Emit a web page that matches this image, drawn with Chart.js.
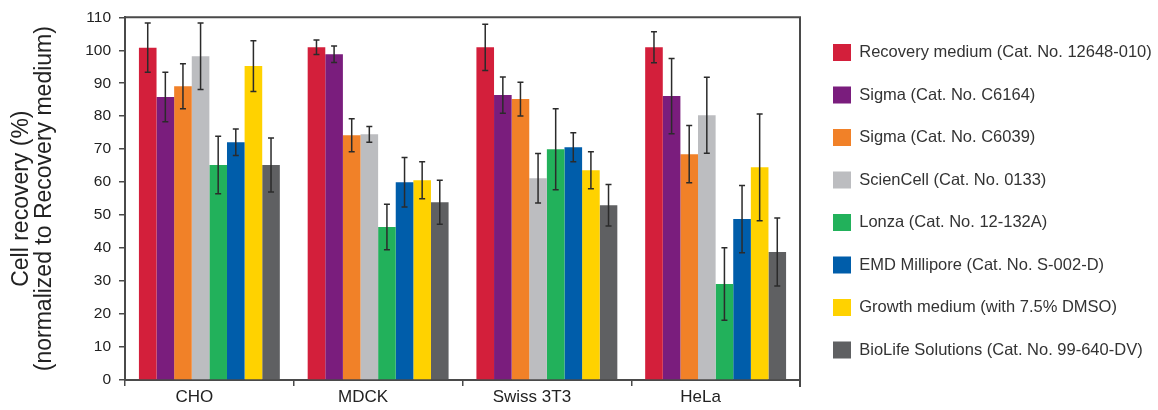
<!DOCTYPE html>
<html>
<head>
<meta charset="utf-8">
<script src="https://cdn.jsdelivr.net/npm/chart.js@4"></script>
<style>
  html, body { margin: 0; padding: 0; background: #fff; }
  #wrap { width: 1158px; height: 410px; position: relative; }
</style>
</head>
<body>
<div id="wrap"><canvas id="recovery-chart"></canvas></div>
<script>
// categories and series
const cellLines = ['CHO', 'MDCK', 'Swiss 3T3', 'HeLa'];

const recoveryMedium = [100.8, 100.9, 100.9, 100.9];
const recoveryMediumErr = [7.5, 2.2, 7.0, 4.7];
const sigmaC6164 = [85.8, 98.8, 86.4, 86.1];
const sigmaC6164Err = [7.5, 2.5, 5.5, 11.4];
const sigmaC6039 = [89.1, 74.2, 85.2, 68.5];
const sigmaC6039Err = [6.8, 5.0, 5.1, 8.7];
const scienCell = [98.2, 74.5, 61.2, 80.3];
const scienCellErr = [10.1, 2.4, 7.5, 11.5];
const lonza = [65.2, 46.4, 70.0, 29.1];
const lonzaErr = [8.7, 6.9, 12.3, 11.0];
const emdMillipore = [72.1, 60.0, 70.6, 48.8];
const emdMilliporeErr = [4.0, 7.5, 4.4, 10.2];
const growthMedium = [95.2, 60.6, 63.6, 64.5];
const growthMediumErr = [7.7, 5.6, 5.6, 16.2];
const bioLife = [65.2, 53.9, 53.0, 38.8];
const bioLifeErr = [8.2, 6.7, 6.3, 10.3];

const yTicks = { min: 0, max: 110, step: 10 };

const seriesList = [
  { label: 'Recovery medium (Cat. No. 12648-010)', data: recoveryMedium, err: recoveryMediumErr, color: '#D31F3B' },
  { label: 'Sigma (Cat. No. C6164)', data: sigmaC6164, err: sigmaC6164Err, color: '#7A1D7D' },
  { label: 'Sigma (Cat. No. C6039)', data: sigmaC6039, err: sigmaC6039Err, color: '#F18128' },
  { label: 'ScienCell (Cat. No. 0133)', data: scienCell, err: scienCellErr, color: '#BCBDC0' },
  { label: 'Lonza (Cat. No. 12-132A)', data: lonza, err: lonzaErr, color: '#22B15B' },
  { label: 'EMD Millipore (Cat. No. S-002-D)', data: emdMillipore, err: emdMilliporeErr, color: '#005DAA' },
  { label: 'Growth medium (with 7.5% DMSO)', data: growthMedium, err: growthMediumErr, color: '#FFD200' },
  { label: 'BioLife Solutions (Cat. No. 99-640-DV)', data: bioLife, err: bioLifeErr, color: '#5F6062' }
];

const FONT = '"Liberation Sans", Arial, Helvetica, sans-serif';
const AXIS_COLOR = '#4a4a4a';

// error bars drawn from the y scale
const errorBars = {
  id: 'errorBars',
  afterDatasetsDraw(chart) {
    const ctx = chart.ctx;
    const y = chart.scales.y;
    ctx.save();
    ctx.strokeStyle = '#2b2b2b';
    ctx.lineWidth = 1.5;
    chart.data.datasets.forEach((ds, i) => {
      const meta = chart.getDatasetMeta(i);
      meta.data.forEach((bar, j) => {
        const v = ds.data[j], e = ds.errors[j];
        const top = y.getPixelForValue(v + e);
        const bot = y.getPixelForValue(v - e);
        const x = bar.x;
        ctx.beginPath();
        ctx.moveTo(x, top); ctx.lineTo(x, bot);
        ctx.moveTo(x - 3, top); ctx.lineTo(x + 3, top);
        ctx.moveTo(x - 3, bot); ctx.lineTo(x + 3, bot);
        ctx.stroke();
      });
    });
    ctx.restore();
  }
};

// top and right edges of the plot box
const plotFrame = {
  id: 'plotFrame',
  afterDraw(chart) {
    const { ctx, chartArea: a } = chart;
    ctx.save();
    ctx.strokeStyle = AXIS_COLOR;
    ctx.lineWidth = 2;
    ctx.beginPath();
    ctx.moveTo(a.left, a.top);
    ctx.lineTo(a.right, a.top);
    ctx.lineTo(a.right, a.bottom + 7);
    ctx.stroke();
    ctx.restore();
  }
};

// fixed legend width and position on the right
const legendPlacer = {
  id: 'legendPlacer',
  beforeLayout(chart) {
    const lg = chart.legend;
    if (lg && !lg._wrapped) {
      const fit = lg.fit.bind(lg);
      lg.fit = function () { fit(); this.width = 358; };
      lg._wrapped = true;
    }
  },
  afterLayout(chart) {
    const lg = chart.legend;
    lg.left = chart.chartArea.right + 7.5;
    lg.top = 0;
    lg.bottom = 402.5;
    lg.height = 402.5;
  }
};

new Chart(document.getElementById('recovery-chart'), {
  type: 'bar',
  data: {
    labels: cellLines,
    datasets: seriesList.map(s => ({
      label: s.label,
      data: s.data,
      errors: s.err,
      backgroundColor: s.color,
      borderWidth: 0,
      barPercentage: 1.0,
      categoryPercentage: 0.835
    }))
  },
  options: {
    responsive: true,
    maintainAspectRatio: false,
    animation: false,
    layout: { padding: { top: 17, left: 0, right: 0, bottom: 0 } },
    plugins: {
      tooltip: { enabled: false },
      legend: {
        position: 'right',
        labels: {
          boxWidth: 18,
          boxHeight: 17,
          padding: 25.5,
          color: '#333',
          font: { family: FONT, size: 16.5 }
        }
      }
    },
    scales: {
      x: {
        afterFit(scale) { scale.height = 30; },
        grid: { offset: true, drawOnChartArea: false, drawTicks: true, tickLength: 6, color: AXIS_COLOR, lineWidth: 1.5 },
        border: { display: true, color: AXIS_COLOR, width: 2 },
        ticks: { color: '#222', padding: 1, labelOffset: -15, font: { family: FONT, size: 17 } }
      },
      y: {
        min: yTicks.min,
        max: yTicks.max,
        afterFit(scale) { scale.width = 125; },
        grid: { drawOnChartArea: false, drawTicks: true, tickLength: 6, color: AXIS_COLOR, lineWidth: 1.5 },
        border: { display: true, color: AXIS_COLOR, width: 2 },
        ticks: { stepSize: yTicks.step, color: '#222', padding: 8, font: { family: FONT, size: 15.5 } },
        title: {
          display: true,
          text: ['Cell recovery (%)', '(normalized to Recovery medium)'],
          color: '#222',
          padding: { top: 10, bottom: 0 },
          font: { family: FONT, size: 23, lineHeight: 1.0 }
        }
      }
    }
  },
  plugins: [errorBars, plotFrame, legendPlacer]
});
</script>
</body>
</html>
